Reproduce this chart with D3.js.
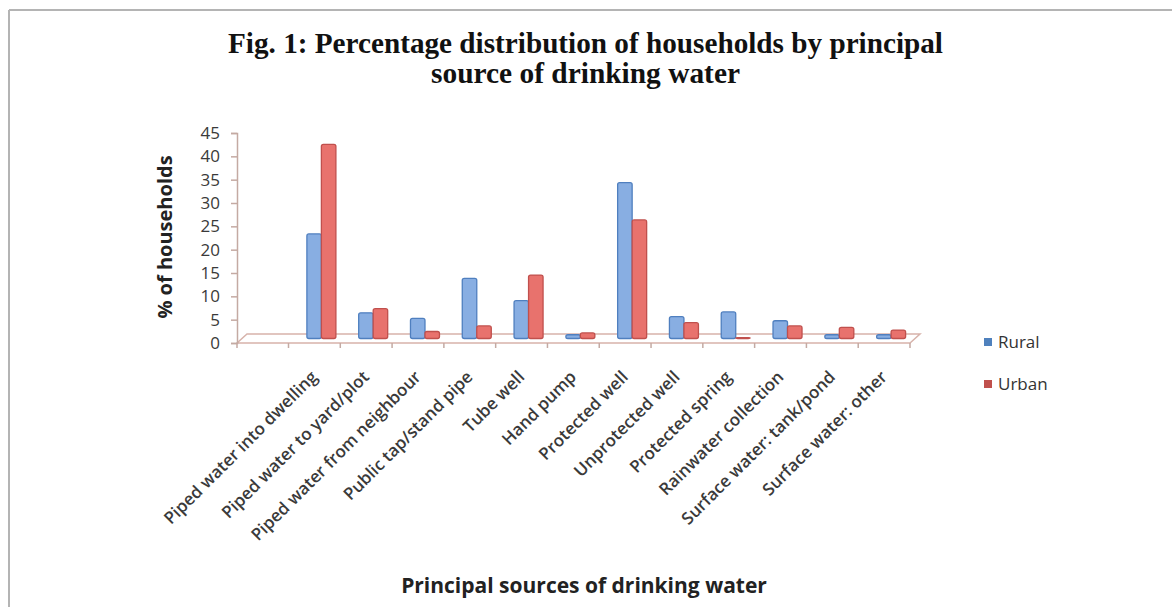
<!DOCTYPE html>
<html>
<head>
<meta charset="utf-8">
<script src="https://cdn.jsdelivr.net/npm/d3@7"></script>
<style>
  html, body { margin: 0; padding: 0; background: #fff; }
  svg { display: block; }
</style>
</head>
<body>
<svg id="chart" width="1172" height="607"></svg>
<script>
const categories = [
  "Piped water into dwelling",
  "Piped water to yard/plot",
  "Piped water from neighbour",
  "Public tap/stand pipe",
  "Tube well",
  "Hand pump",
  "Protected well",
  "Unprotected well",
  "Protected spring",
  "Rainwater collection",
  "Surface water: tank/pond",
  "Surface water: other"
];
const rural = [22.4, 5.5, 4.3, 12.9, 8.1, 0.8, 33.4, 4.7, 5.7, 3.8, 0.8, 0.8];
const urban = [41.6, 6.4, 1.5, 2.7, 13.6, 1.2, 25.4, 3.4, 0.2, 2.7, 2.4, 1.8];
const seriesNames = ["Rural", "Urban"];
const yTicks = [0, 5, 10, 15, 20, 25, 30, 35, 40, 45];
const titleLines = [
  "Fig. 1: Percentage distribution of households by principal",
  "source of drinking water"
];
const yTitle = "% of households";
const xTitle = "Principal sources of drinking water";

const svg = d3.select("#chart");
const sans = "'Open Sans', 'DejaVu Sans', sans-serif";

// frame lines (top and left)
svg.append("line").attr("x1", 9).attr("y1", 10).attr("x2", 1172).attr("y2", 10)
  .attr("stroke", "#b4b4b4").attr("stroke-width", 2);
svg.append("line").attr("x1", 9).attr("y1", 10).attr("x2", 9).attr("y2", 607)
  .attr("stroke", "#b4b4b4").attr("stroke-width", 2);

// title
const titleWidths = [715, 309];
titleLines.forEach((t, i) => {
  svg.append("text")
    .attr("x", 585.5).attr("y", 53 + i * 30)
    .attr("text-anchor", "middle")
    .attr("font-family", "'Liberation Serif', 'Times New Roman', serif")
    .attr("font-weight", "bold")
    .attr("font-size", 29)
    .attr("textLength", titleWidths[i])
    .attr("lengthAdjust", "spacingAndGlyphs")
    .attr("fill", "#111")
    .text(t);
});

// scales
const axisX0 = 237;
const y = d3.scaleLinear().domain([0, 45]).range([343, 133]);
const x = d3.scaleBand().domain(categories).range([288.5, 910]).paddingInner(0).paddingOuter(0);
const depthDx = 10, depthDy = -9;
const barDx = 7, barDy = -4.5;
const barW = 14.5;

// floor (3D base)
const floorColor = "#d7b3ab";
const floorPts = [[axisX0, y(0)], [910, y(0)], [910 + depthDx, y(0) + depthDy], [axisX0 + depthDx, y(0) + depthDy]];
svg.append("path")
  .attr("d", d3.line()(floorPts) + "Z")
  .attr("fill", "none").attr("stroke", floorColor).attr("stroke-width", 1.5);

// y axis
const yAxis = d3.axisLeft(y).tickValues(yTicks).tickSize(6).tickPadding(11);
const gy = svg.append("g").attr("transform", `translate(${axisX0},0)`).call(yAxis);
gy.select(".domain").attr("stroke", "#c4aaa3").attr("stroke-width", 1.5);
gy.selectAll(".tick line").attr("stroke", "#c4aaa3").attr("stroke-width", 1.5);
gy.selectAll(".tick text").attr("font-family", sans).attr("font-size", 17).attr("fill", "#3a3a3a");

// x axis ticks at category boundaries
const boundaries = [axisX0].concat(categories.map(c => x(c))).concat([x.range()[1]]);
svg.append("g").selectAll("line").data(boundaries).join("line")
  .attr("x1", d => d).attr("x2", d => d)
  .attr("y1", y(0)).attr("y2", y(0) + 5)
  .attr("stroke", "#c4aaa3").attr("stroke-width", 1.5);

// bars
const colors = { Rural: { fill: "#88aee2", stroke: "#4f7fbf" }, Urban: { fill: "#e8726d", stroke: "#c0504d" } };
const series = [rural, urban];
series.forEach((vals, si) => {
  const name = seriesNames[si];
  svg.append("g").selectAll("rect").data(categories).join("rect")
    .attr("x", (c) => x(c) + x.bandwidth() / 2 + barDx - barW + si * barW)
    .attr("y", (c, i) => y(vals[i]) + barDy)
    .attr("width", barW)
    .attr("height", (c, i) => Math.max(0.8, y(0) - y(vals[i])))
    .attr("rx", 2)
    .attr("fill", colors[name].fill)
    .attr("stroke", colors[name].stroke)
    .attr("stroke-width", 1.3);
});

// x labels
svg.append("g").selectAll("text").data(categories).join("text")
  .attr("transform", c => `translate(${x(c) + x.bandwidth() / 2 + 4},378) rotate(-45)`)
  .attr("text-anchor", "end")
  .attr("font-family", sans)
  .attr("font-size", 17)
  .attr("font-weight", 600)
  .attr("fill", "#3a3a3a")
  .text(c => c);

// axis titles
svg.append("text")
  .attr("transform", `translate(172,237) rotate(-90)`)
  .attr("text-anchor", "middle")
  .attr("font-family", sans).attr("font-weight", "bold").attr("font-size", 20)
  .attr("fill", "#222")
  .text(yTitle);
svg.append("text")
  .attr("x", 584).attr("y", 593)
  .attr("text-anchor", "middle")
  .attr("font-family", sans).attr("font-weight", "bold").attr("font-size", 21)
  .attr("fill", "#222")
  .text(xTitle);

// legend
const legendColors = ["#4f81bd", "#c0504d"];
const lg = svg.append("g");
seriesNames.forEach((n, i) => {
  lg.append("rect").attr("x", 984).attr("y", 338 + i * 42).attr("width", 8).attr("height", 8)
    .attr("fill", legendColors[i]);
  lg.append("text").attr("x", 998).attr("y", 348 + i * 42)
    .attr("font-family", sans).attr("font-size", 17).attr("fill", "#333")
    .text(n);
});
</script>
</body>
</html>
